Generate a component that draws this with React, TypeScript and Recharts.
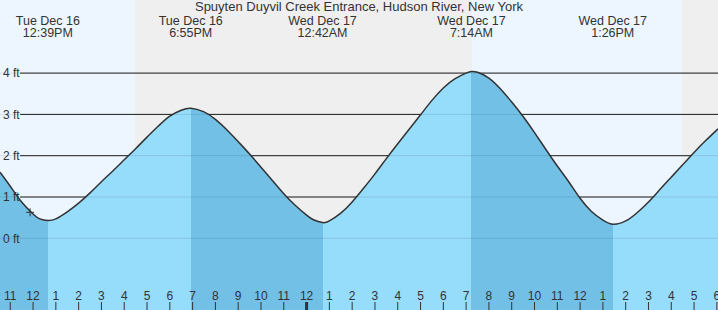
import * as React from "react";

import {
  Area,
  CartesianGrid,
  ComposedChart,
  ReferenceArea,
  ReferenceDot,
  ReferenceLine,
  XAxis,
  YAxis,
} from "recharts";

/// 潮位チャート（Spuyten Duyvil Creek Entrance）。時刻は 12/16 0:00 からの経過時間（h）。

const TITLE = "Spuyten Duyvil Creek Entrance, Hudson River, New York";

const X_MIN = 10.55;
const X_MAX = 42.05;
const Y_MIN = -1.736;
const Y_MAX = 5.77;

// 潮位（ft）— 画像から読み取り
const TIMES = [
  10.55, 11.0, 11.5, 12.0, 12.3, 12.65,
  13.0, 13.5, 14.0, 14.5, 15.0, 15.5, 16.0, 16.5, 17.0, 17.5, 18.0, 18.5, 18.92,
  19.5, 20.0, 20.5, 21.0, 21.5, 22.0, 22.5, 23.0, 23.5, 24.0, 24.3, 24.7,
  25.0, 25.5, 26.0, 26.5, 27.0, 27.5, 28.0, 28.5, 29.0, 29.5, 30.0, 30.5, 31.0, 31.24,
  31.5, 32.0, 32.5, 33.0, 33.5, 34.0, 34.5, 35.0, 35.5, 36.0, 36.5, 37.0, 37.46,
  38.0, 38.5, 39.0, 39.5, 40.0, 40.5, 41.0, 41.5, 42.05,
];
const FEET = [
  1.6, 1.26, 0.88, 0.59, 0.47, 0.43,
  0.47, 0.64, 0.85, 1.1, 1.37, 1.63, 1.9, 2.17, 2.45, 2.72, 2.96, 3.1, 3.15,
  3.06, 2.88, 2.63, 2.34, 2.04, 1.72, 1.4, 1.08, 0.8, 0.56, 0.45, 0.38,
  0.42, 0.61, 0.88, 1.21, 1.56, 1.93, 2.29, 2.64, 2.99, 3.34, 3.64, 3.86, 4.0, 4.04,
  4.02, 3.88, 3.62, 3.3, 2.95, 2.56, 2.15, 1.75, 1.37, 0.97, 0.65, 0.44, 0.34,
  0.42, 0.62, 0.88, 1.18, 1.48, 1.78, 2.08, 2.36, 2.65,
];

// 満潮・干潮（最初は下げ潮で終わる干潮）
const EXTREME_TIMES = [12.65, 18.917, 24.7, 31.233, 37.433];
const EXTREME_DAYS = ["Tue Dec 16", "Tue Dec 16", "Wed Dec 17", "Wed Dec 17", "Wed Dec 17"];
const EXTREME_LABELS = ["12:39PM", "6:55PM", "12:42AM", "7:14AM", "1:26PM"];

// 日没・日の出
const NIGHTS: [number, number][] = [
  [16.47, 31.26],
  [40.45, X_MAX],
];
const DAYS: [number, number][] = [
  [X_MIN, 16.47],
  [31.26, 40.45],
];

const NOW_TIME = 11.87;
const NOW_FEET = 0.63;

const HOUR_TICKS = [
  11, 12, 13, 14, 15, 16, 17, 18, 19, 20, 21, 22, 23, 24, 25, 26, 27, 28, 29, 30, 31, 32, 33,
  34, 35, 36, 37, 38, 39, 40, 41, 42,
];
const FEET_TICKS = [0, 1, 2, 3, 4];

const W = 718;
const H = 310;
const FONT = "'Liberation Sans', Arial, sans-serif";
const TEXT = "#333";
const RISING = "#96dcfb";
const FALLING = "#72c0e6";
const DAY_BG = "#edf6ff";
const NIGHT_BG = "#efefef";

const rows = TIMES.map((t, i) => ({ t, ft: FEET[i] }));

function HourTick(props: any) {
  const { x, payload } = props;
  const h = payload.value as number;
  const label = h % 12 === 0 ? 12 : h % 12;
  const midnight = h % 24 === 0;
  return (
    <g>
      <line x1={x} x2={x} y1={H - 8} y2={H} stroke={TEXT} strokeWidth={midnight ? 3 : 1} />
      <text x={x} y={H - 10} textAnchor="middle" fontSize={12} fontFamily={FONT} fill={TEXT}>
        {label}
      </text>
    </g>
  );
}

function ExtremeTick(props: any) {
  const { x, payload, index } = props;
  const i = typeof index === "number" ? index : EXTREME_TIMES.indexOf(payload.value);
  return (
    <g fontSize={12.5} fontFamily={FONT} fill={TEXT} textAnchor="middle">
      <text x={x} y={24.5}>{EXTREME_DAYS[i]}</text>
      <text x={x} y={36.5}>{EXTREME_LABELS[i]}</text>
    </g>
  );
}

function FeetTick(props: any) {
  const { y, payload } = props;
  return (
    <text x={3} y={y} dy="0.35em" textAnchor="start" fontSize={12} fontFamily={FONT} fill={TEXT}>
      {`${payload.value} ft`}
    </text>
  );
}

function NowMark(props: any) {
  const { cx, cy } = props;
  return (
    <g stroke={TEXT} strokeWidth={1}>
      <line x1={cx - 4} x2={cx + 4} y1={cy} y2={cy} />
      <line x1={cx} x2={cx} y1={cy - 4} y2={cy + 4} />
    </g>
  );
}

export default function App() {
  // 下げ潮（濃）/上げ潮（淡）を満干の時刻で切り替える横方向グラデーション
  const bounds = [X_MIN, ...EXTREME_TIMES, X_MAX];
  const span = X_MAX - X_MIN;
  return (
    <div style={{ position: "absolute", left: 0, top: 0, width: W, height: H }}>
      <ComposedChart width={W} height={H} data={rows} margin={{ top: 0, right: 0, bottom: 0, left: 0 }}>
        <defs>
          <linearGradient id="tideFill" x1="0" y1="0" x2="1" y2="0">
            {bounds.slice(0, -1).map((b, i) => {
              const color = i % 2 === 0 ? FALLING : RISING;
              return (
                <React.Fragment key={b}>
                  <stop offset={(b - X_MIN) / span} stopColor={color} />
                  <stop offset={(bounds[i + 1] - X_MIN) / span} stopColor={color} />
                </React.Fragment>
              );
            })}
          </linearGradient>
        </defs>
        {DAYS.map(([a, b]) => (
          <ReferenceArea key={`d${a}`} x1={a} x2={b} fill={DAY_BG} fillOpacity={1} stroke="none" zIndex={-200} />
        ))}
        {NIGHTS.map(([a, b]) => (
          <ReferenceArea key={`n${a}`} x1={a} x2={b} fill={NIGHT_BG} fillOpacity={1} stroke="none" zIndex={-200} />
        ))}
        <CartesianGrid
          vertical={false}
          stroke="#222"
          strokeWidth={1}
          x={20}
          width={W - 20}
          horizontalValues={FEET_TICKS}
        />
        <XAxis
          dataKey="t"
          type="number"
          domain={[X_MIN, X_MAX]}
          ticks={HOUR_TICKS}
          interval={0}
          mirror
          axisLine={false}
          tickLine={false}
          tick={<HourTick />}
        />
        <XAxis
          xAxisId="top"
          dataKey="t"
          orientation="top"
          type="number"
          domain={[X_MIN, X_MAX]}
          ticks={EXTREME_TIMES}
          interval={0}
          mirror
          axisLine={false}
          tickLine={false}
          tick={<ExtremeTick />}
        />
        <YAxis
          type="number"
          domain={[Y_MIN, Y_MAX]}
          ticks={FEET_TICKS}
          interval={0}
          width={30}
          mirror
          axisLine={false}
          tickLine={false}
          tick={<FeetTick />}
        />
        <Area
          dataKey="ft"
          type="natural"
          baseValue="dataMin"
          stroke="#333"
          strokeWidth={1.5}
          fill="url(#tideFill)"
          fillOpacity={1}
          dot={false}
          activeDot={false}
          isAnimationActive={false}
        />
        {FEET_TICKS.map((v) => (
          <ReferenceLine key={v} y={v} stroke="rgba(0,0,0,0.1)" strokeWidth={1} zIndex={150} />
        ))}
        <ReferenceDot x={NOW_TIME} y={NOW_FEET} shape={<NowMark />} zIndex={160} />
        <text x={W / 2} y={11} textAnchor="middle" fontSize={13} fontFamily={FONT} fill={TEXT}>
          {TITLE}
        </text>
      </ComposedChart>
    </div>
  );
}
